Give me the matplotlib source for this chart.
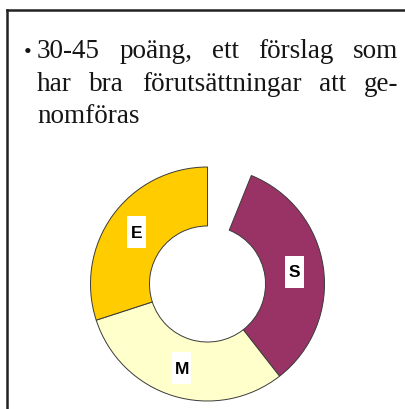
import matplotlib.pyplot as plt
from matplotlib.patches import Rectangle
import numpy as np

W, H = 406, 410
DPI = 100

# text of the slide bullet, one entry per printed line
text_lines = ['30-45 poäng, ett förslag som',
              'har bra förutsättningar att ge-',
              'nomföras']

# donut slices (degrees, clockwise from 12 o'clock after the empty gap)
gap_value = 22
slice_labels = ['S', 'M', 'E']
slice_values = [120, 110, 108]
slice_colors = ['#993366', '#FFFFCC', '#FFCC00']

fig = plt.figure(figsize=(W / DPI, H / DPI), dpi=DPI)
bg = fig.add_axes([0, 0, 1, 1])
bg.set_xlim(0, W)
bg.set_ylim(H, 0)
bg.axis('off')

# frame (only left and top sides are visible)
bg.plot([7, 7], [11, H], color='#222222', lw=1.8, solid_capstyle='projecting')
bg.plot([7, W], [11, 11], color='#222222', lw=1.8, solid_capstyle='projecting')

# justified serif text
renderer = fig.canvas.get_renderer()
left, right = 37, 398
baselines = [58, 91, 123]
font = dict(fontsize=19.5, family='Liberation Serif', va='baseline', color='#151515')
for i, (line, yb) in enumerate(zip(text_lines, baselines)):
    words = line.split()
    arts = [bg.text(0, yb, w, **font) for w in words]
    widths = [a.get_window_extent(renderer).width for a in arts]
    if i < len(text_lines) - 1 and len(words) > 1:
        space = (right - left - sum(widths)) / (len(words) - 1)
    else:
        space = 6.5
    x = left
    for a, w in zip(arts, widths):
        a.set_x(x)
        x += w + space
bg.text(24, 58, '\u2022', fontsize=16, family='Liberation Serif', va='baseline', color='#151515')

# donut
cx, cy, r_out, half = 207.5, 285, 117, 125
ax = fig.add_axes([(cx - half) / W, (H - cy - half) / H, 2 * half / W, 2 * half / H])
lim = half / r_out
wedges, _ = ax.pie([gap_value] + slice_values, colors=['none'] + slice_colors,
                   startangle=90, counterclock=False, radius=1,
                   wedgeprops=dict(width=0.504, edgecolor='#3a3a3a', linewidth=0.7))
wedges[0].set_edgecolor('none')
ax.set_xlim(-lim, lim)
ax.set_ylim(-lim, lim)
ax.set_aspect('equal')
ax.axis('off')

# label boxes: 19 x 32 px white rectangles
bw, bh = 19 / r_out, 32 / r_out
total = gap_value + sum(slice_values)
cum = gap_value
for lab, v in zip(slice_labels, slice_values):
    mid = np.deg2rad(90 - (cum + v / 2) / total * 360)
    cum += v
    lx, ly = 0.752 * np.cos(mid), 0.752 * np.sin(mid)
    ax.add_patch(Rectangle((lx - bw / 2, ly - bh / 2), bw, bh, fc='white', ec='none', zorder=3))
    ax.text(lx, ly, lab, ha='center', va='center', zorder=4,
            fontsize=12.5, fontweight='bold', family='Liberation Sans', color='black')

fig.savefig('out.png', dpi=DPI)
